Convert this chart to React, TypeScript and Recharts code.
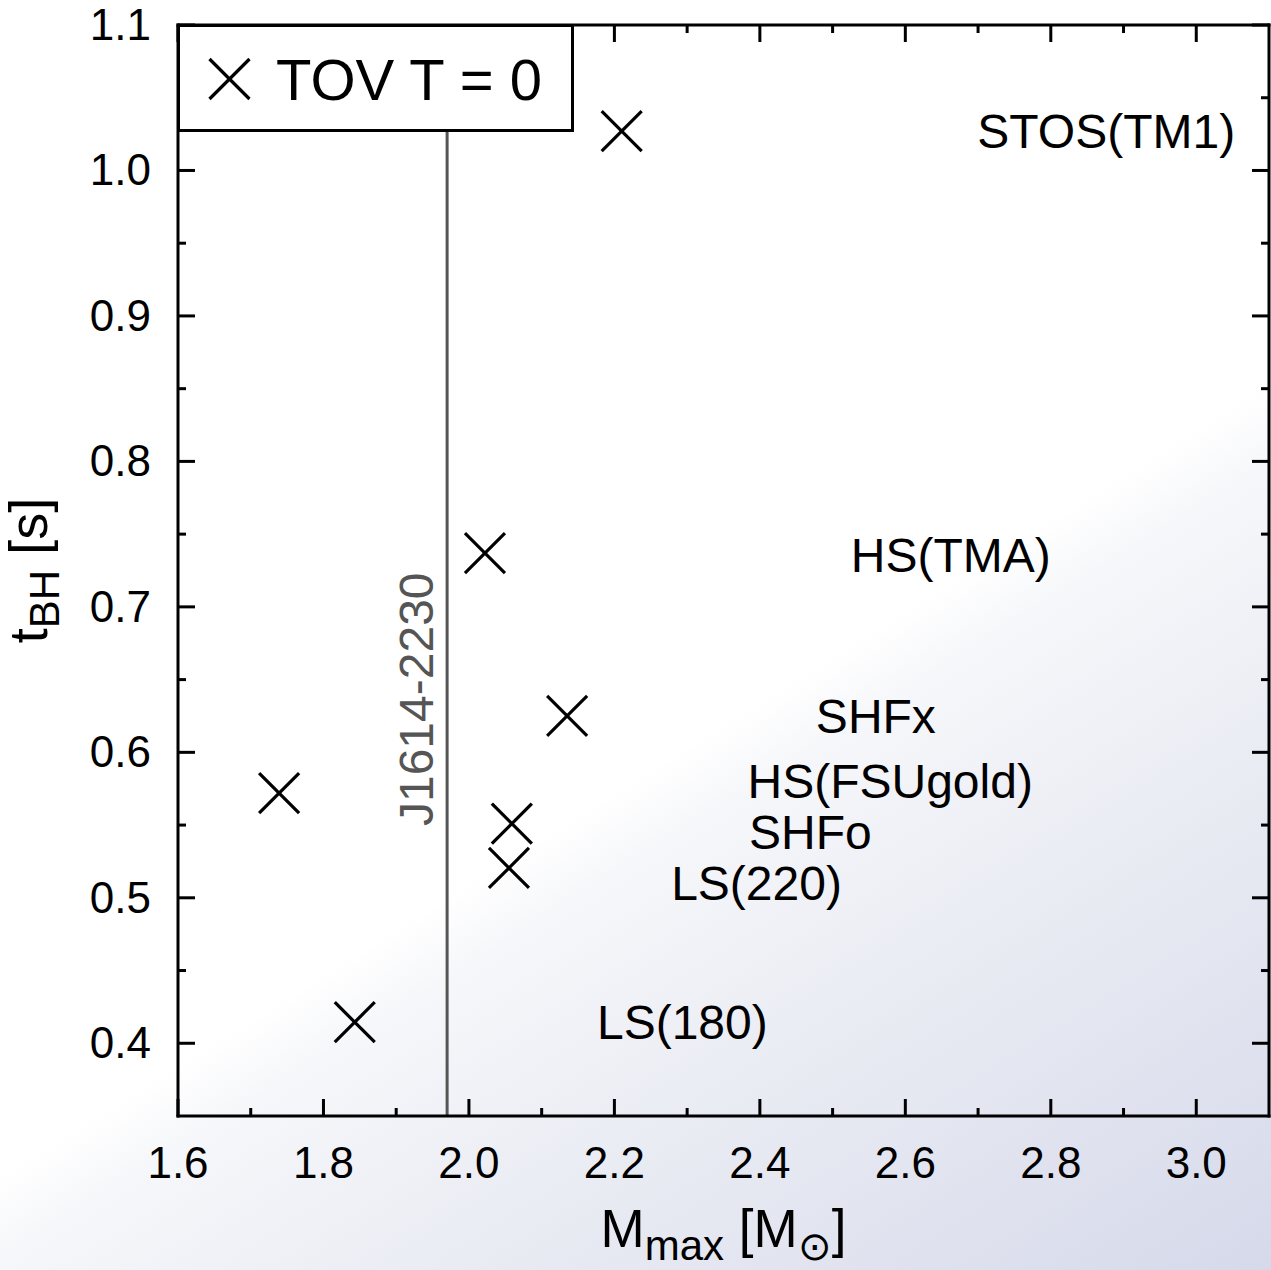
import React from "react";
import { ScatterChart, Scatter, XAxis, YAxis, ReferenceLine, ReferenceDot } from "recharts";

// TOV maximum mass vs. black hole formation time
const maxMass = [2.21, 2.022, 2.135, 1.739, 2.059, 2.055, 1.843];
const tBH = [1.027, 0.737, 0.625, 0.572, 0.551, 0.5205, 0.4145];

// EOS names, placed as free labels
const eosNames = ["STOS(TM1)", "HS(TMA)", "SHFx", "HS(FSUgold)", "SHFo", "LS(220)", "LS(180)"];
const eosLabelX = [2.699, 2.525, 2.477, 2.383, 2.385, 2.278, 2.176];
const eosLabelY = [1.0274, 0.7355, 0.625, 0.58, 0.545, 0.51, 0.4143];

// observed pulsar mass
const pulsarMass = 1.97;
const pulsarName = "J1614-2230";
const pulsarLabelY = 0.6365;

const xMajor = [1.6, 1.8, 2.0, 2.2, 2.4, 2.6, 2.8, 3.0];
const xMajorLabels = ["1.6", "1.8", "2.0", "2.2", "2.4", "2.6", "2.8", "3.0"];
const xMinor = [1.7, 1.9, 2.1, 2.3, 2.5, 2.7, 2.9];
const yMajor = [0.4, 0.5, 0.6, 0.7, 0.8, 0.9, 1.0, 1.1];
const yMajorLabels = ["0.4", "0.5", "0.6", "0.7", "0.8", "0.9", "1.0", "1.1"];
const yMinor = [0.45, 0.55, 0.65, 0.75, 0.85, 0.95, 1.05];

const FONT = "'Liberation Sans', Arial, Helvetica, sans-serif";

const points = maxMass.map((m, i) => ({ x: m, y: tBH[i] }));
const eosLabels = eosNames.map((name, i) => ({ x: eosLabelX[i], y: eosLabelY[i], name }));
const xTicks = [...xMajor, ...xMinor].sort((a, b) => a - b);
const yTicks = [...yMajor, ...yMinor].sort((a, b) => a - b);

const frame = { stroke: "#000", strokeWidth: 3, strokeLinecap: "square" as const };

function makeTick(side: "bottom" | "top" | "left" | "right", majors: number[], labels: string[]) {
  return (props: any) => {
    const { x, y, payload } = props;
    const idx = majors.findIndex((m) => Math.abs(m - payload.value) < 1e-6);
    const len = idx >= 0 ? 17 : 8;
    let tick;
    if (side === "bottom") tick = <line x1={x} x2={x} y1={y} y2={y - len} />;
    else if (side === "top") tick = <line x1={x} x2={x} y1={y} y2={y + len} />;
    else if (side === "left") tick = <line x1={x} x2={x + len} y1={y} y2={y} />;
    else tick = <line x1={x} x2={x - len} y1={y} y2={y} />;
    return (
      <g>
        <g stroke="#000" strokeWidth={3}>{tick}</g>
        {idx >= 0 && side === "bottom" && (
          <text x={x} y={y + 62} textAnchor="middle" fontSize={44} fontFamily={FONT} fill="#000">
            {labels[idx]}
          </text>
        )}
        {idx >= 0 && side === "left" && (
          <text x={x - 27} y={y + 15} textAnchor="end" fontSize={44} fontFamily={FONT} fill="#000">
            {labels[idx]}
          </text>
        )}
      </g>
    );
  };
}

function Cross(props: any) {
  const { cx, cy } = props;
  const s = 20;
  return (
    <g stroke="#000" strokeWidth={3.2}>
      <line x1={cx - s} y1={cy - s} x2={cx + s} y2={cy + s} />
      <line x1={cx - s} y1={cy + s} x2={cx + s} y2={cy - s} />
    </g>
  );
}

function EosLabel(props: any) {
  const { cx, cy, payload } = props;
  return (
    <text x={cx} y={cy + 17} fontSize={48} fontFamily={FONT} fill="#000">
      {payload.name}
    </text>
  );
}

function PulsarLabel(props: any) {
  const { cx, cy } = props;
  return (
    <text
      x={cx}
      y={cy - 14}
      transform={`rotate(-90 ${cx} ${cy})`}
      textAnchor="middle"
      fontSize={48}
      fontFamily={FONT}
      fill="#555"
    >
      {pulsarName}
    </text>
  );
}

function XTitle(props: any) {
  const vb = props.viewBox || { x: 178, y: 1116, width: 1091 };
  const cx = vb.x + vb.width / 2;
  return (
    <text x={cx} y={vb.y + 131} textAnchor="middle" fontSize={53} fontFamily={FONT} fill="#000">
      M<tspan fontSize={42} dy={13}>max</tspan>
      <tspan dy={-13}> [M</tspan>
      <tspan fontSize={40} dy={13}>⊙</tspan>
      <tspan dy={-13}>]</tspan>
    </text>
  );
}

function YTitle(props: any) {
  const vb = props.viewBox || { x: 78, y: 25, height: 1091 };
  const bx = vb.x - 31;
  const cy = vb.y + vb.height / 2;
  return (
    <text
      x={bx}
      y={cy}
      transform={`rotate(-90 ${bx} ${cy})`}
      textAnchor="middle"
      fontSize={54}
      fontFamily={FONT}
      fill="#000"
    >
      t<tspan fontSize={42} dy={12}>BH</tspan>
      <tspan dy={-12}> [s]</tspan>
    </text>
  );
}

export default function App() {
  return (
    <div
      style={{
        position: "absolute",
        left: 0,
        top: 0,
        width: 1271,
        height: 1270,
        background:
          "linear-gradient(148deg, #ffffff 0%, #ffffff 57%, #f6f7fa 61%, #e9ebf3 76%, #d6d9ea 100%)",
      }}
    >
      <ScatterChart width={1271} height={1270} margin={{ top: 24, right: 1, bottom: 94, left: 78 }}>
        <XAxis
          xAxisId="b"
          type="number"
          dataKey="x"
          domain={[1.6, 3.1]}
          ticks={xTicks}
          interval={0}
          allowDataOverflow
          height={60}
          axisLine={frame}
          tickLine={false}
          tickSize={0}
          tickMargin={0}
          tick={makeTick("bottom", xMajor, xMajorLabels)}
          label={<XTitle />}
        />
        <XAxis
          xAxisId="t"
          orientation="top"
          type="number"
          dataKey="x"
          domain={[1.6, 3.1]}
          ticks={xTicks}
          interval={0}
          allowDataOverflow
          height={1}
          axisLine={frame}
          tickLine={false}
          tickSize={0}
          tickMargin={0}
          tick={makeTick("top", xMajor, xMajorLabels)}
        />
        <YAxis
          yAxisId="l"
          type="number"
          dataKey="y"
          domain={[0.35, 1.1]}
          ticks={yTicks}
          interval={0}
          allowDataOverflow
          width={100}
          axisLine={frame}
          tickLine={false}
          tickSize={0}
          tickMargin={0}
          tick={makeTick("left", yMajor, yMajorLabels)}
          label={<YTitle />}
        />
        <YAxis
          yAxisId="r"
          orientation="right"
          type="number"
          dataKey="y"
          domain={[0.35, 1.1]}
          ticks={yTicks}
          interval={0}
          allowDataOverflow
          width={1}
          axisLine={frame}
          tickLine={false}
          tickSize={0}
          tickMargin={0}
          tick={makeTick("right", yMajor, yMajorLabels)}
        />
        <ReferenceLine xAxisId="b" yAxisId="l" x={pulsarMass} stroke="#555" strokeWidth={3} />
        <ReferenceDot
          xAxisId="b"
          yAxisId="l"
          x={pulsarMass}
          y={pulsarLabelY}
          r={0}
          shape={<PulsarLabel />}
        />
        <Scatter
          xAxisId="b"
          yAxisId="l"
          data={eosLabels}
          shape={<EosLabel />}
          isAnimationActive={false}
        />
        <Scatter
          xAxisId="b"
          yAxisId="l"
          name="TOV T = 0"
          data={points}
          shape={<Cross />}
          isAnimationActive={false}
        />
      </ScatterChart>
      <div
        style={{
          position: "absolute",
          left: 177,
          top: 24,
          width: 397,
          height: 108,
          boxSizing: "border-box",
          border: "3px solid #000",
          background: "#fff",
          fontFamily: FONT,
        }}
      >
        <svg width={391} height={102} style={{ position: "absolute", left: 0, top: 0 }}>
          <Cross cx={49.5} cy={52} />
          <text x={96} y={73} fontSize={58} fontFamily={FONT} fill="#000">
            TOV T = 0
          </text>
        </svg>
      </div>
    </div>
  );
}
